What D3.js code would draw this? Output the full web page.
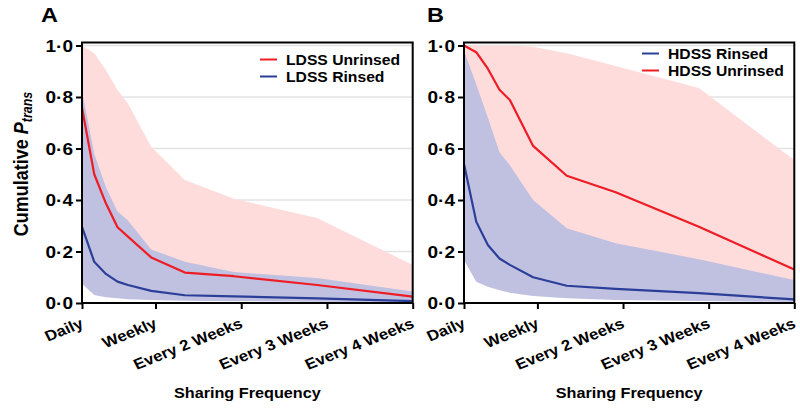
<!DOCTYPE html>
<html>
<head>
<meta charset="utf-8">
<script src="https://cdn.jsdelivr.net/npm/d3@7"></script>
<style>
  html, body { margin: 0; padding: 0; background: #fff; }
  svg { display: block; }
  text { font-family: "Liberation Sans", Arial, sans-serif; font-weight: bold; fill: #000; }
</style>
</head>
<body>
<svg id="chart" width="800" height="408"></svg>
<script>
// ---- data ----
const days = [1, 2, 2.95, 3.9, 4.75, 6.65, 9.4, 13.4, 20.2, 28];
const xTickValues = [1, 7, 14, 21, 28];
const xTickLabels = ["Daily", "Weekly", "Every 2 Weeks", "Every 3 Weeks", "Every 4 Weeks"];
const yTickValues = [0, 0.2, 0.4, 0.6, 0.8, 1.0];

// Panel A
const ldssUnrinsedMean = [0.758, 0.50, 0.387, 0.294, 0.258, 0.177, 0.118, 0.104, 0.070, 0.025];
const ldssUnrinsedHigh = [1.0, 0.97, 0.905, 0.827, 0.775, 0.607, 0.478, 0.405, 0.33, 0.148];
const ldssUnrinsedLow  = [0.38, 0.20, 0.14, 0.10, 0.085, 0.06, 0.04, 0.035, 0.025, 0.01];
const ldssRinsedMean   = [0.296, 0.16, 0.113, 0.083, 0.07, 0.047, 0.03, 0.026, 0.018, 0.007];
const ldssRinsedHigh   = [0.824, 0.58, 0.45, 0.355, 0.32, 0.208, 0.16, 0.12, 0.097, 0.045];
const ldssRinsedLow    = [0.075, 0.031, 0.022, 0.018, 0.015, 0.012, 0.009, 0.007, 0.005, 0.003];

// Panel B
const hdssUnrinsedMean = [1.0, 0.974, 0.91, 0.828, 0.788, 0.61, 0.494, 0.43, 0.296, 0.13];
const hdssUnrinsedHigh = [1.0, 1.0, 1.0, 1.0, 1.0, 0.995, 0.97, 0.92, 0.835, 0.555];
const hdssUnrinsedLow  = [0.6, 0.5, 0.4, 0.33, 0.3, 0.2, 0.15, 0.12, 0.09, 0.04];
const hdssRinsedMean   = [0.54, 0.316, 0.225, 0.173, 0.148, 0.10, 0.067, 0.055, 0.038, 0.014];
const hdssRinsedHigh   = [0.98, 0.85, 0.72, 0.585, 0.535, 0.40, 0.29, 0.232, 0.17, 0.089];
const hdssRinsedLow    = [0.167, 0.083, 0.063, 0.05, 0.04, 0.027, 0.018, 0.012, 0.008, 0.004];

// ---- styling ----
const RED = "#ee1c24", BLUE = "#2b3f98";
const PINK = "#ffdcdc", LAV = "#c0c0e1";
const SX = 1.12; // horizontal glyph stretch seen in the reference

const svg = d3.select("#chart");
const yTop = 45.5, yBot = 303, frameTop = 42.5;
const y = d3.scaleLinear().domain([0, 1]).range([yBot, yTop]);

const panels = [
  { label: "A", x0: 82, x1: 412.7, labelX: 41, legendY: 59.5, legendX: 260,
    series: [
      { name: "LDSS Unrinsed", color: RED, fill: PINK, mean: ldssUnrinsedMean, hi: ldssUnrinsedHigh, lo: ldssUnrinsedLow },
      { name: "LDSS Rinsed", color: BLUE, fill: LAV, mean: ldssRinsedMean, hi: ldssRinsedHigh, lo: ldssRinsedLow }
    ],
    legendOrder: [0, 1], yLabel: true },
  { label: "B", x0: 464, x1: 794.3, labelX: 427, legendY: 53.5, legendX: 642,
    series: [
      { name: "HDSS Unrinsed", color: RED, fill: PINK, mean: hdssUnrinsedMean, hi: hdssUnrinsedHigh, lo: hdssUnrinsedLow },
      { name: "HDSS Rinsed", color: BLUE, fill: LAV, mean: hdssRinsedMean, hi: hdssRinsedHigh, lo: hdssRinsedLow }
    ],
    legendOrder: [1, 0], yLabel: false }
];

panels.forEach(p => {
  const x = d3.scaleLinear().domain([1, 28]).range([p.x0, p.x1]);
  const g = svg.append("g");

  // grid
  g.append("g").selectAll("line").data(yTickValues.filter(v => v > 0)).join("line")
    .attr("x1", p.x0).attr("x2", p.x1)
    .attr("y1", d => y(d)).attr("y2", d => y(d))
    .attr("stroke", "#e3e3e3").attr("stroke-width", 1.5);

  // bands
  p.series.forEach(s => {
    const area = d3.area()
      .x((d, i) => x(days[i]))
      .y0((d, i) => y(s.lo[i]))
      .y1((d, i) => y(s.hi[i]));
    g.append("path").datum(days).attr("d", area).attr("fill", s.fill);
  });

  // mean lines
  p.series.forEach(s => {
    const line = d3.line().x((d, i) => x(days[i])).y((d, i) => y(s.mean[i]));
    g.append("path").datum(days).attr("d", line)
      .attr("fill", "none").attr("stroke", s.color).attr("stroke-width", 2.2)
      .attr("stroke-linejoin", "round");
  });

  // frame
  g.append("rect").attr("x", p.x0).attr("y", frameTop)
    .attr("width", p.x1 - p.x0).attr("height", yBot - frameTop)
    .attr("fill", "none").attr("stroke", "#000").attr("stroke-width", 2);

  // y axis
  const ya = g.append("g").attr("transform", `translate(${p.x0},0)`)
    .call(d3.axisLeft(y).tickValues(yTickValues).tickSize(6)
      .tickFormat(d => d3.format(".1f")(d).replace(".", "\u00B7")));
  ya.select(".domain").remove();
  ya.selectAll(".tick line").attr("stroke", "#000").attr("stroke-width", 2);
  ya.selectAll(".tick text")
    .attr("x", null).attr("dy", null)
    .attr("dominant-baseline", "central")
    .attr("transform", `translate(-9,0) scale(${SX},1)`)
    .style("font-size", "17px").style("font-family", "'Liberation Sans', Arial, sans-serif")
    .style("font-weight", "bold").attr("fill", "#000");

  // x axis
  const xa = g.append("g").attr("transform", `translate(0,${yBot})`)
    .call(d3.axisBottom(x).tickValues(xTickValues).tickSize(6)
      .tickFormat((d, i) => xTickLabels[i]));
  xa.select(".domain").remove();
  xa.selectAll(".tick line").attr("stroke", "#000").attr("stroke-width", 2);
  xa.selectAll(".tick text")
    .attr("y", null).attr("dy", null)
    .attr("text-anchor", "end")
    .attr("transform", `translate(2,24) scale(${SX},1) rotate(-24.3)`)
    .style("font-size", "15px").style("font-family", "'Liberation Sans', Arial, sans-serif")
    .style("font-weight", "bold").attr("fill", "#000");

  // x title
  g.append("text")
    .attr("text-anchor", "middle")
    .attr("transform", `translate(${(p.x0 + p.x1) / 2},398) scale(${SX},1)`)
    .style("font-size", "14.5px")
    .text("Sharing Frequency");

  // panel label
  g.append("text")
    .attr("transform", `translate(${p.labelX},22) scale(${SX},1)`)
    .style("font-size", "21px")
    .text(p.label);

  // legend
  p.legendOrder.forEach((si, k) => {
    const s = p.series[si];
    const ly = p.legendY + k * 17;
    g.append("line").attr("x1", p.legendX).attr("x2", p.legendX + 17)
      .attr("y1", ly).attr("y2", ly).attr("stroke", s.color).attr("stroke-width", 2);
    g.append("text")
      .attr("transform", `translate(${p.legendX + 26},${ly + 5}) scale(${SX},1)`)
      .style("font-size", "14px")
      .text(s.name);
  });

  // y title
  if (p.yLabel) {
    const t = g.append("text")
      .attr("text-anchor", "middle")
      .attr("transform", `translate(28,164) scale(${SX},1) rotate(-90)`)
      .style("font-size", "18px");
    t.append("tspan").text("Cumulative ");
    t.append("tspan").style("font-style", "italic").text("P");
    t.append("tspan").style("font-style", "italic").style("font-size", "12.5px")
      .attr("dy", 4).text("trans");
  }
});
</script>
</body>
</html>
